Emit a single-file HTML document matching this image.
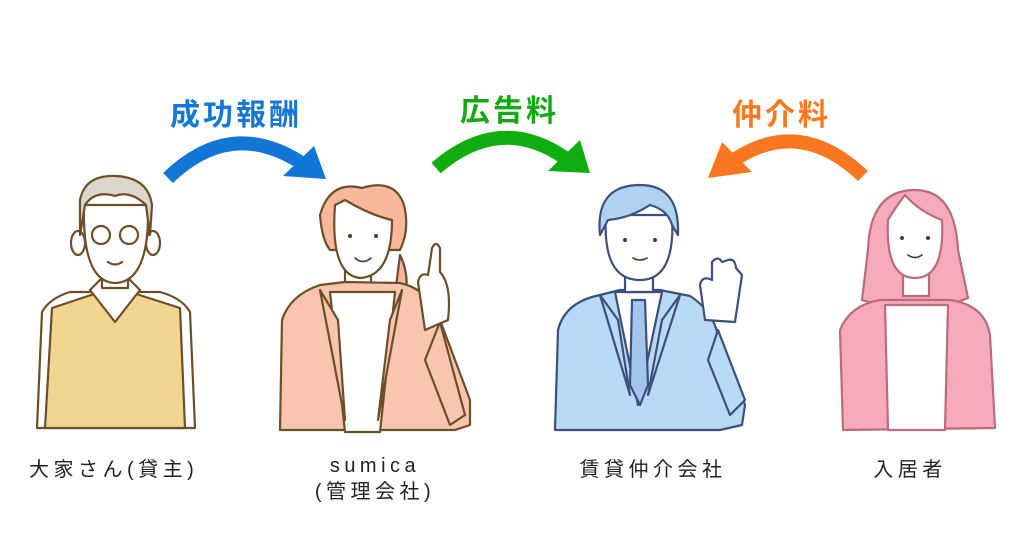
<!DOCTYPE html>
<html><head><meta charset="utf-8"><style>
html,body{margin:0;padding:0;background:#fff;}
body{width:1024px;height:534px;overflow:hidden;position:relative;font-family:"Liberation Sans","Noto Sans CJK JP",sans-serif;}
.t{position:absolute;font-weight:bold;font-size:30px;letter-spacing:3px;white-space:nowrap;}
.l{position:absolute;font-size:20px;color:#222;white-space:nowrap;text-align:center;letter-spacing:4.5px;}
</style></head><body>
<svg width="1024" height="534" style="position:absolute;left:0;top:0" stroke-linejoin="round" stroke-linecap="round">
<path d="M168,178 Q230,118 300,162" fill="none" stroke="#1176d6" stroke-width="14" stroke-linecap="butt"/>
<polygon points="283,176 314,146 326,179" fill="#1176d6"/>
<path d="M436,168 Q500,113 565,158" fill="none" stroke="#10ad10" stroke-width="14" stroke-linecap="butt"/>
<polygon points="548,171 580,140 590,173" fill="#10ad10"/>
<path d="M863,176 Q800,116 734,160" fill="none" stroke="#fb7620" stroke-width="14" stroke-linecap="butt"/>
<polygon points="752,172 722,142 708,178" fill="#fb7620"/>

<g stroke="#6b4e2a" stroke-width="2.2">
<path d="M37,428 L42,312 Q50,298 70,292 L160,292 Q182,298 190,312 L195,428 Z" fill="#fff"/>
<path d="M45,428 L52,308 L100,292 L130,292 L180,308 L185,428 Z" fill="#f2d590"/>
<path d="M90,290 L115,322 L140,290 L130,280 L100,280 Z" fill="#fff"/>
<rect x="102" y="260" width="26" height="28" fill="#fff"/>
<ellipse cx="78" cy="243" rx="7" ry="12" fill="#fff"/>
<ellipse cx="153" cy="243" rx="7" ry="12" fill="#fff"/>
<path d="M84,205 Q82,282 115,283 Q150,282 148,205 Z" fill="#fff"/>
<path d="M80,235 L80,200 Q85,175 115,176 Q148,177 152,205 L150,235 L146,205 Q130,190 115,196 Q95,190 85,205 Z" fill="#dcd6cc"/>
<circle cx="101" cy="235" r="9" fill="none"/><circle cx="129" cy="235" r="9" fill="none"/>
<path d="M108,262 Q115,267 122,262" fill="none"/>
<path d="M362,188 Q330,180 320,215 Q322,240 330,250 L400,250 Q410,230 404,205 Q395,178 362,188Z" fill="#f8b89c"/>
<path d="M400,255 Q410,275 405,300 L395,295 Z" fill="#f8b89c"/>
<rect x="345" y="268" width="26" height="24" fill="#fff"/>
<path d="M335,205 Q330,275 360,278 Q392,276 392,220 Q370,215 345,200 Z" fill="#fff"/>
<path d="M280,430 L282,320 Q290,295 320,285 L345,282 L400,283 Q430,290 440,320 L470,400 L470,425 L455,430 Z" fill="#f9c5ae"/>
<path d="M330,292 L345,432 L380,432 L395,292 Z" fill="#fff"/>
<path d="M320,290 L345,420 L338,320 Z M402,290 L378,420 L390,320 Z" fill="#f9c5ae"/>
<path d="M440,322 L465,415 L450,425 L425,360 Z" fill="#f9c5ae"/>
<path d="M425,330 L418,282 Q420,272 428,275 L430,262 L432,248 Q436,240 440,248 L440,272 Q452,285 448,320 Z" fill="#fff"/>
<g stroke="#3d4f7a">
<path d="M555,430 L558,330 Q565,302 600,295 L620,290 L660,290 L690,296 Q712,310 718,335 L745,405 L742,425 L720,430 Z" fill="#b9daf6"/>
<path d="M615,292 L638,405 L662,292 Z" fill="#fff"/>
<path d="M632,300 L630,385 L640,405 L648,385 L645,300 Z" fill="#a3c7ec"/>
<path d="M600,295 L630,395 L618,320 Z M680,295 L648,395 L662,320 Z" fill="#b9daf6"/>
<rect x="625" y="270" width="28" height="22" fill="#fff"/>
<path d="M606,215 Q602,280 640,280 Q676,280 672,215 Z" fill="#fff"/>
<path d="M600,235 Q595,185 640,185 Q680,185 678,235 L672,225 Q668,210 650,205 Q630,218 608,220 Z" fill="#b0d2f2"/>
<path d="M705,320 L700,285 Q702,275 712,280 L712,262 Q718,255 722,262 L728,260 Q735,258 736,268 L742,275 L735,322 Z" fill="#fff"/>
<path d="M718,330 L745,400 L730,415 L708,360 Z" fill="#b9daf6"/>
</g>
<g stroke="#b86c7c">
<path d="M915,190 Q870,190 868,250 L862,300 L880,305 L950,305 L968,298 L958,250 Q955,190 915,190Z" fill="#f7aab9"/>
<path d="M843,430 L840,330 Q850,305 880,300 L950,300 Q985,305 990,335 L995,428 Z" fill="#f7aab9"/>
<path d="M885,305 L888,430 L945,430 L948,305 Z" fill="#fff"/>
<rect x="903" y="268" width="26" height="28" fill="#fff"/>
<path d="M888,220 Q885,278 915,278 Q945,278 942,220 Q920,212 905,195 Q895,208 888,220 Z" fill="#fff"/>
</g>
</g>
<g fill="#4a3a2a">
<circle cx="350" cy="236" r="2"/><circle cx="376" cy="236" r="2"/>
<circle cx="625" cy="240" r="2"/><circle cx="655" cy="240" r="2"/>
<circle cx="902" cy="238" r="2"/><circle cx="928" cy="238" r="2"/>
</g>
<g fill="none" stroke="#4a3a2a" stroke-width="1.6">
<path d="M355,258 Q363,265 371,258"/><path d="M633,258 Q640,262 647,258"/><path d="M908,255 Q915,260 922,255"/>
</g>
</svg>
<div class="t" style="left:170px;top:90px;color:#1478d4;">成功報酬</div>
<div class="t" style="left:460px;top:86px;color:#15a815;">広告料</div>
<div class="t" style="left:732px;top:90px;color:#f97a1e;">仲介料</div>
<div class="l" style="left:29px;top:453px;text-align:left;">大家さん(貸主)</div>
<div class="l" style="left:285px;top:453px;width:180px;line-height:26px;">sumica<br>(管理会社)</div>
<div class="l" style="left:563px;top:453px;width:180px;">賃貸仲介会社</div>
<div class="l" style="left:850px;top:453px;width:120px;">入居者</div>
</body></html>
